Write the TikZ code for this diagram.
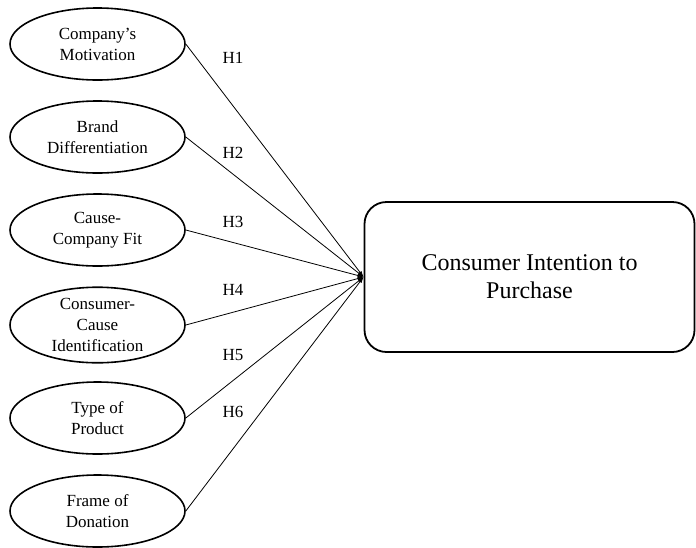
\documentclass[tikz,border=0pt]{standalone}
\usepackage{fontspec}
\setmainfont{Liberation Serif}
\usetikzlibrary{shapes.geometric, arrows.meta, positioning}

\begin{document}
\begin{tikzpicture}[
    x=1pt, y=-1pt,
    factor/.style={
        ellipse,
        draw,
        line width=1.6pt,
        minimum width=175pt,
        minimum height=72pt,
        inner sep=0pt,
        align=center,
        font=\fontsize{17}{21}\selectfont
    },
    outcome/.style={
        rectangle,
        rounded corners=22pt,
        draw,
        line width=1.8pt,
        minimum width=330pt,
        minimum height=150pt,
        align=center,
        font=\fontsize{24}{28}\selectfont
    },
    hyp/.style={
        font=\fontsize{17}{20}\selectfont
    },
    link/.style={
        line width=0.8pt,
        -{Latex[length=6pt,width=4pt]}
    }
]
\useasboundingbox (0,0) rectangle (696,547);

% Factors
\node[factor] (motive) at (97.5, 44) {Company's\\Motivation};
\node[factor] (brand) at (97.5, 137) {Brand\\Differentiation};
\node[factor] (fit) at (97.5, 230) {Cause-\\Company Fit};
\node[factor] (ident) at (97.5, 325) {Consumer-\\Cause\\Identification};
\node[factor] (product) at (97.5, 418) {Type of\\Product};
\node[factor] (donation) at (97.5, 511) {Frame of\\Donation};

% Outcome
\node[outcome] (intent) at (529.5, 277) {Consumer Intention to\\Purchase};

% Hypotheses
\draw[link] (motive.east) -- (intent.west);
\draw[link] (brand.east) -- (intent.west);
\draw[link] (fit.east) -- (intent.west);
\draw[link] (ident.east) -- (intent.west);
\draw[link] (product.east) -- (intent.west);
\draw[link] (donation.east) -- (intent.west);

\node[hyp] (h1) at (233, 58) {H1};
\node[hyp] (h2) at (233, 153) {H2};
\node[hyp] (h3) at (233, 222) {H3};
\node[hyp] (h4) at (233, 290) {H4};
\node[hyp] (h5) at (233, 355) {H5};
\node[hyp] (h6) at (233, 412) {H6};

\end{tikzpicture}
\end{document}
